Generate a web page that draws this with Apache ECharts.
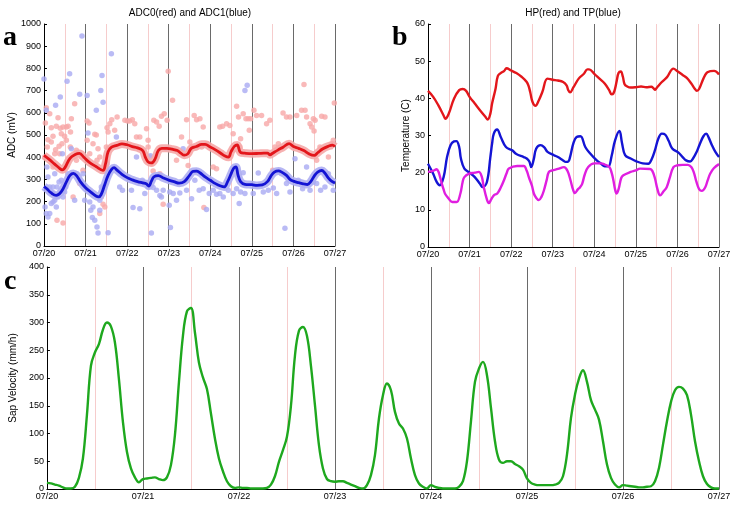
<!DOCTYPE html>
<html><head><meta charset="utf-8">
<script src="https://cdn.jsdelivr.net/npm/echarts@6/dist/echarts.min.js"></script>
<style>html,body{margin:0;padding:0;background:#fff}#c{width:736px;height:508px}</style>
</head><body><div id="c"></div>
<script>
// x values are hours since 07/20 00:00
const dayLabels = ['07/20','07/21','07/22','07/23','07/24','07/25','07/26','07/27'];

// Panel a: ADC0 (red) smoothed line, ADC1 (blue) smoothed line
const adc0Line = [[0,408],[3,390],[6,370],[9,350],[10.5,343],[12,352],[15,395],[18,412],[20.5,417],[23,400],
[26,378],[30,358],[34,341],[35.5,370],[37,425],[39,445],[42,453],[45,460],
[48,456],[51,448],[54,442],[57,430],[58.5,400],[60,380],[62,374],[64,390],[66,430],[68,440],[71,440],
[74,436],[77,430],[79,418],[81,409],[83,415],[85,440],[88,448],[91,458],[93,458],
[96,446],[99,433],[102,418],[104.5,405],[106.5,400],[108,425],[110,450],[111.5,455],[113.5,421],[116,418],
[120,416],[124,417],[127,418],[129,418],[130.5,411],[132,418],[135,432],[138,445],[141.5,461],
[144,448],[147,440],[150,430],[153,415],[156,408],[158,420],[161,438],[164,449],[166.5,454],[168,448]];
const adc1Line = [[0,268],[2,255],[4,240],[7,228],[10,245],[13,290],[15,318],[17,327],[19,315],[21,290],
[24,262],[27,243],[30,225],[31.5,221],[33,232],[35,275],[37,318],[39,345],[40.5,353],[42,343],[45,323],
[48,308],[51,298],[54,290],[57,284],[59,280],[60.5,270],[62,292],[63.5,312],[66,317],[69,306],
[72,297],[75,290],[78,283],[81,290],[84,318],[86,336],[88,337],[90,330],[93,311],
[96,296],[99,281],[102,270],[104,266],[106,290],[108,325],[109.5,350],[110.8,356],[112,320],[113.5,290],[116,278],
[120,276],[123,273],[126,275],[129,290],[131,315],[133,333],[135.4,338],[137,334],[140,318],[142,300],
[144,292],[147,285],[150,280],[152,277],[154,290],[156,315],[158,333],[160.4,340],[162,330],[164,308],[166,292],[168,284]];
// Panel a: raw samples
const adc0Pts = [[0.8,554],[1.3,623],[2.3,479],[3.3,596],[1.9,446],[4.2,533],[5.2,494],[7.1,539],[8.1,578],[8.7,449],[6.2,416],[9.4,530],[11,536],[12.9,536],[13.9,539],[15.3,513],[11.9,494],[10,506],[12.9,476],[15.8,573],[17.7,641],[18.7,431],[21.6,401],[22.5,341],[5.2,356],[7.5,116],[11.0,104],[16.8,221],[20.6,281],[0.4,401],[4.2,468],[6.7,434],[10.4,461],[15.2,446],[18.7,386],[9,416],
[24.9,563],[26,554],[24.9,476],[26.4,416],[28.3,461],[29.3,503],[30.2,500],[31.2,438],[32.2,401],[33.1,221],[34.1,188],[35.1,176],[32.2,146],[36.4,533],[38,551],[39.1,569],[40.8,521],[42.2,581],[46.7,566],[48.2,563],[37,513],[36,446],[30.6,386],[36,344],
[49.5,563],[51,569],[52.4,551],[53.4,491],[55.3,491],[59.2,528],[60.1,476],[63.4,566],[65,558],[66.5,539],[67.8,584],[69.4,596],[71.1,566],[71.7,787],[61.1,401],[62,371],[66.9,326],[68.8,188],[60.1,446],[63,338],
[74.2,656],[76.5,386],[79.4,491],[82.3,569],[83.2,363],[85.2,446],[86.7,588],[88.1,569],[90,573],[91.9,536],[92.3,173],[94.2,461],[91,446],[88.1,446],[84.2,468],
[97.7,356],[99.6,348],[101.5,536],[103.1,539],[105.4,551],[107.3,543],[109.2,506],[111.2,629],[112.3,581],[113.5,483],[115,596],[116.6,573],[117.9,573],[119.3,573],[113.1,446],[109.2,431],[118.5,521],
[121.2,611],[122.7,588],[125.6,588],[128.5,551],[130.4,566],[132,341],[133.3,446],[135.3,461],[138,599],[140,581],[142,581],[143.9,446],
[145.9,588],[148.7,611],[150.7,611],[151.6,581],[153.6,551],[154.5,536],[155.9,518],[156.5,566],[155.5,573],[150.1,727],[157.4,386],[160.3,584],[162.2,581],[164.2,401],[167,476],[167.6,644],[166.1,461],[159.3,446]];
const adc1Pts = [[0,752],[1.3,611],[1.7,356],[0.6,176],[1.3,146],[2.3,131],[3.3,146],[4.2,191],[5.2,198],[6.2,206],[7.1,176],[4.8,236],[6.7,634],[9.4,671],[7.5,266],[8.7,288],[10.6,416],[11.9,243],[12.5,266],[13.3,742],[14.8,776],[13.9,326],[15.8,438],[17.7,206],[19.1,326],[20.6,683],[21.9,946],[22.5,326],[23.5,206],[5.2,266],[8.1,221],[11,221],[10,296],[3.3,266],[2.3,311],[6.2,326],
[24.9,678],[25.4,509],[26.4,198],[27,161],[27.9,128],[29.3,116],[30.6,86],[31.2,59],[32.2,206],[33.1,266],[32.8,701],[33.5,768],[34.1,648],[36.4,371],[37,60],[38.9,866],[41.8,491],[43.7,266],[45.3,251],[30.2,611],[28.3,176],[32.2,161],
[50.5,251],[51.4,173],[53.4,401],[55.3,168],[56.8,296],[58.2,236],[60.1,266],[61.5,407],[62,59],[63,263],[65,251],[66.9,228],[68.8,251],[67.8,221],[70.7,438],[73,83],[72.6,243],[72.3,183],
[74.6,236],[76.5,206],[78.4,239],[80.3,438],[82.3,251],[85.2,213],[87.1,296],[89.6,251],[91.9,258],[93.8,164],[95.4,236],
[97.7,251],[99.6,233],[101.5,236],[103.5,221],[106.4,251],[109.2,236],[111.2,258],[112.7,191],[113.5,243],[115,330],[116,236],[117.3,724],[116,701],
[120.8,236],[123.7,329],[126.6,243],[129.5,251],[132.4,261],[134.3,236],[137.2,326],[139.1,80],[140,281],[142,243],
[144.9,393],[146.8,296],[149.3,258],[151.6,356],[153.6,251],[155.5,288],[157.4,281],[159.7,251],[162.2,266],[164.2,326],[167,251]];

// Panel b: HP (red), TP (blue), third probe (magenta)
const hpLine = [[0,42.0],[3,40.4],[6,38.1],[9,35.4],[10,34.5],[12,35.9],[15,39.9],[18,42.2],[20,42.5],[22,42.0],
[24,40.4],[27,38.6],[30,36.8],[33,35.1],[34.5,34.3],[36,35.9],[37,38.6],[39,42.6],[40.3,46.0],[42,46.8],[44,47.4],[45.3,48.1],
[48,47.5],[51,46.8],[54,45.8],[57,44.4],[58,43.4],[59,41.7],[60,39.5],[61,38.4],[62,38.0],[64,39.5],[66,41.7],[69,45.3],
[72,45.0],[75,44.8],[78,44.4],[80,43.5],[81,42.2],[82,41.6],[84,43.0],[87,45.3],[90,46.6],[92,47.8],[93,47.8],
[96,46.6],[99,45.3],[102,44.0],[104.5,42.3],[106,41.1],[107,41.3],[108,42.6],[109,44.8],[110,46.8],[111.3,47.2],[112.5,45.8],[113.5,43.8],[115,43.2],[117,42.9],
[120,43.0],[123,43.2],[126,43.0],[129,43.1],[130,42.8],[131,42.3],[132,42.8],[135,44.4],[138,45.7],[141.7,48.0],
[144,47.3],[147,46.3],[149.4,45.5],[152,44.0],[154,42.6],[155.2,42.0],[156.5,42.5],[159,45.3],[161,46.9],[163,47.3],[165.2,47.4],[168,46.4]];
const tpLine = [[0,22.4],[3,19.7],[5,17.5],[6.8,16.6],[9,18.8],[11,24.2],[13,27.4],[15,28.4],[16.4,28.5],[18,26.9],[19,23.8],[21,21.1],
[24,20.0],[27,18.8],[30,17.0],[31.5,16.1],[34,17.5],[36,24.2],[37,27.8],[38,30.5],[39.9,31.6],[42,29.6],[45,26.9],
[48.6,26.0],[51,25.0],[55.3,24.2],[57,23.8],[58.5,23.0],[59.6,21.5],[61,23.5],[62.5,26.5],[65,27.4],[67,26.9],[69,25.6],
[72.7,24.7],[75,24.2],[78,23.3],[79.5,22.9],[81,23.0],[82,24.2],[84,28.0],[85.8,29.6],[88,29.8],[90.8,26.9],[93,25.5],
[97.4,23.3],[100,22.4],[102,21.7],[104.1,21.7],[106,24.5],[108,28.7],[110.5,31.2],[112,28.0],[113.8,24.7],[117,23.8],
[120.6,23.0],[124,22.5],[127.2,22.4],[129,23.5],[131,26.0],[133,29.2],[135,30.5],[137,30.2],[139,28.5],[141,26.5],[144.6,25.4],
[147,24.2],[149,23.3],[151.3,23.0],[153,23.8],[155,25.5],[157,27.8],[159,29.8],[160.6,30.5],[162,29.5],[164,27.3],[166,25.5],[168,24.2]];
const magLine = [[0,20.2],[3,20.5],[5,20.9],[6,20.3],[7,18.8],[8,17.0],[9,15.5],[10,14.2],[12,13.0],[14,12.1],[16.5,12.1],[18.7,14.4],[20,17.5],[21,18.8],[23.5,19.7],
[27,20.0],[29.3,20.2],[31,19.0],[32.2,16.1],[34,12.8],[35.1,11.8],[36.5,12.8],[38,13.9],[40,14.4],[42,16.0],[43.8,17.9],[45.5,20.0],[46.7,21.1],
[51.5,21.8],[55.3,21.8],[57,20.5],[58.2,18.8],[60,16.5],[61.1,14.4],[62.5,13.2],[64,12.6],[65.5,13.5],[66.9,15.2],[68.5,18.0],[69.8,20.2],[71.7,20.6],
[75,21.0],[78.5,21.5],[80.5,20.5],[82.3,17.9],[83.7,15.5],[84.8,14.5],[86.5,15.5],[87.8,16.1],[89,17.0],[90.5,19.5],[92.5,21.5],[96,22.5],[100,22.5],
[102,22.2],[104.7,21.5],[106,20.0],[107,18.0],[108,15.5],[108.9,14.4],[110,15.5],[111.5,18.5],[112.8,19.3],[117,20.2],[120,20.6],[122.4,21.1],[128.1,21.0],
[129.5,20.5],[131,18.5],[132.5,15.5],[134,13.9],[136,15.0],[137.8,16.1],[139.5,18.5],[141.7,21.5],[144,22.0],[147,22.1],[150,22.1],
[152,21.5],[153.5,20.0],[155,17.5],[156.5,15.6],[158.1,15.1],[160,16.0],[161.5,18.0],[162.9,19.7],[165,21.2],[168,22.3]];

// Panel c: sap velocity, hourly from 07/20 00:00 to 07/27 00:00
const sapVelocity = [
11,10,8,6,3,1,1,4,20,55,133,222,246,261,287,300,293,264,198,121,67,37,21,12,
18,19,20,21,18,16,21,43,97,192,276,320,326,282,228,201,180,136,91,55,32,14,5,2,
3,2,2,1,1,1,1,2,8,23,49,70,94,150,240,285,292,276,222,151,79,37,18,14,
13,14,14,11,8,5,2,1,7,25,61,127,169,190,178,139,118,109,91,55,25,10,4,1,
7,4,2,1,1,1,1,4,14,50,122,193,217,229,205,146,86,53,47,50,50,45,41,35,
19,11,8,7,7,7,7,8,11,23,62,128,170,199,214,193,160,143,125,86,44,20,8,3,
7,6,5,4,3,3,4,5,14,38,80,122,157,178,184,181,169,134,86,50,23,9,3,1,1];

const FONT = '"Liberation Sans", Arial, sans-serif';
const chart = echarts.init(document.getElementById('c'));

function xAx(g) {
  return {
    type: 'value', gridIndex: g, min: 0, max: 168, interval: 24,
    axisLine: {show: true, onZero: false, lineStyle: {color: '#000', width: 1}},
    axisTick: {show: false},
    axisLabel: {formatter: v => dayLabels[Math.round(v / 24)], fontSize: 9, color: '#000', margin: 3, fontFamily: FONT},
    splitLine: {show: true, lineStyle: {color: '#6a6a6a', width: 1}},
    minorTick: {show: false, splitNumber: 2},
    minorSplitLine: {show: true, lineStyle: {color: '#f6cccc', width: 1}}
  };
}
function yAx(g, max, interval, name, gap) {
  return {
    type: 'value', gridIndex: g, min: 0, max: max, interval: interval,
    name: name, nameLocation: 'middle', nameRotate: 90, nameGap: gap,
    nameTextStyle: {fontSize: 10, color: '#000', fontFamily: FONT},
    axisLine: {show: true, lineStyle: {color: '#000', width: 1}},
    axisTick: {show: true, inside: true, length: 3, lineStyle: {color: '#000'}},
    axisLabel: {formatter: v => String(v), fontSize: 9, color: '#000', margin: 3, fontFamily: FONT},
    splitLine: {show: false}
  };
}
function line(xi, data, color, width, z, opacity) {
  return {type: 'line', xAxisIndex: xi, yAxisIndex: xi, data: data, smooth: 0.4, showSymbol: false,
    symbol: 'none', z: z, lineStyle: {color: color, width: width, opacity: opacity == null ? 1 : opacity}, silent: true, animation: false};
}

chart.setOption({
  animation: false,
  backgroundColor: '#fff',
  grid: [
    {left: 44, top: 24, right: 401, bottom: 262},
    {left: 428, top: 24, right: 17, bottom: 261},
    {left: 44, top: 267, right: 17, bottom: 19}
  ],
  xAxis: [xAx(0), xAx(1), xAx(2)],
  yAxis: [
    yAx(0, 1000, 100, 'ADC (mV)', 27),
    yAx(1, 60, 10, 'Temperature (C)', 17),
    yAx(2, 400, 50, 'Sap Velocity (mm/h)', 24)
  ],
  graphic: [
    {type: 'text', style: {x: 190, y: 13, text: 'ADC0(red) and ADC1(blue)', textAlign: 'center', textVerticalAlign: 'middle', font: '10px ' + FONT, fill: '#000'}},
    {type: 'text', style: {x: 573, y: 13, text: 'HP(red) and TP(blue)', textAlign: 'center', textVerticalAlign: 'middle', font: '10px ' + FONT, fill: '#000'}},
    {type: 'text', style: {x: 3, y: 24, text: 'a', textBaseline: 'alphabetic', font: 'bold 28px "Liberation Serif", serif', fill: '#000'}},
    {type: 'text', style: {x: 392, y: 24, text: 'b', textBaseline: 'alphabetic', font: 'bold 28px "Liberation Serif", serif', fill: '#000'}},
    {type: 'text', style: {x: 4, y: 268, text: 'c', textBaseline: 'alphabetic', font: 'bold 28px "Liberation Serif", serif', fill: '#000'}}
  ],
  series: [
    {type: 'scatter', xAxisIndex: 0, yAxisIndex: 0, data: adc0Pts, symbolSize: 5.5, itemStyle: {color: '#f7a8a8'}, z: 2, silent: true},
    {type: 'scatter', xAxisIndex: 0, yAxisIndex: 0, data: adc1Pts, symbolSize: 5.5, itemStyle: {color: '#a9aaf3'}, z: 2, silent: true},
    line(0, adc0Line, '#f5a9a9', 8, 3, 0.9),
    line(0, adc1Line, '#aeaef2', 8, 3, 0.9),
    line(0, adc0Line, '#e3161b', 2.8, 4),
    line(0, adc1Line, '#1414d4', 2.8, 4),
    line(1, hpLine, '#e3161b', 2.4, 4),
    line(1, tpLine, '#1414d4', 2.4, 4),
    line(1, magLine, '#e01ee0', 2.4, 4),
    line(2, sapVelocity.map((v, i) => [i, v]), '#1ea81e', 2.4, 4)
  ]
});
</script>
</body></html>
